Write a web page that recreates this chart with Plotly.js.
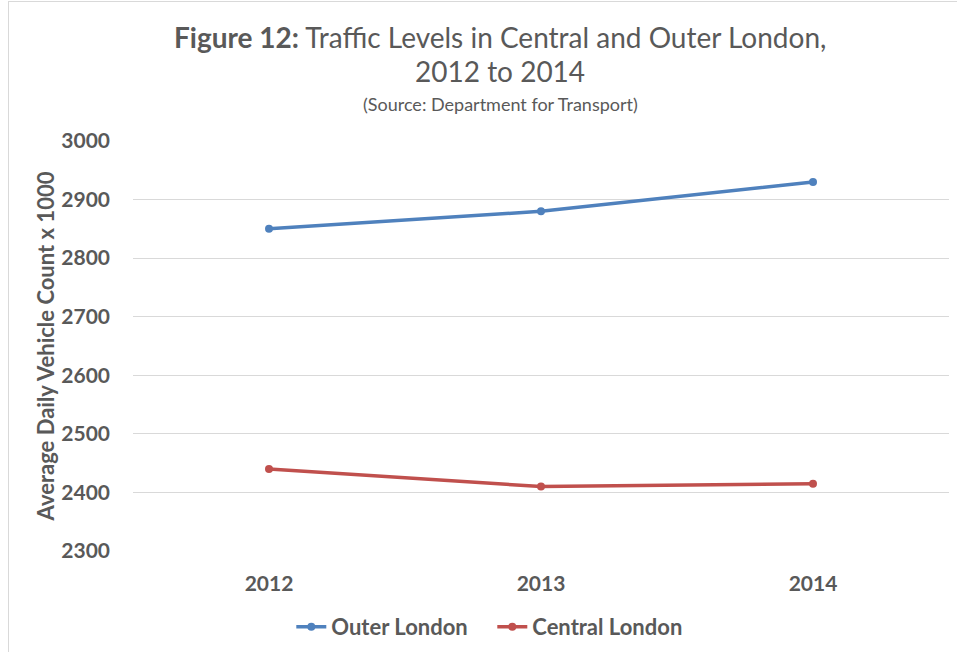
<!DOCTYPE html>
<html>
<head>
<meta charset="utf-8">
<script src="https://cdn.plot.ly/plotly-3.0.1.min.js"></script>
<style>
html,body{margin:0;padding:0;background:#fff;}
#frame{position:absolute;left:8px;top:1px;width:1000px;height:700px;border:1px solid #d9d9d9;pointer-events:none;z-index:5;}
#chart{position:absolute;left:0;top:0;width:957px;height:652px;}
</style>
</head>
<body>
<div id="chart"></div>
<div id="frame"></div>
<script>
var years = ["2012", "2013", "2014"];
var outerLondon = [2850, 2880, 2930];
var centralLondon = [2440, 2410, 2415];
var yTicks = [2300, 2400, 2500, 2600, 2700, 2800, 2900, 3000];

var FONT = "Lato, 'Open Sans', sans-serif";
var GRAY = "#595959";

var traces = [
  {x: years, y: outerLondon, name: "Outer London", type: "scatter", mode: "lines+markers",
   line: {color: "#4f81bd", width: 3.5}, marker: {color: "#4f81bd", size: 8}},
  {x: years, y: centralLondon, name: "Central London", type: "scatter", mode: "lines+markers",
   line: {color: "#c0504d", width: 3.5}, marker: {color: "#c0504d", size: 8}}
];

var layout = {
  width: 957, height: 652,
  margin: {l: 133, r: 8, t: 141, b: 101, autoexpand: false},
  paper_bgcolor: "rgba(0,0,0,0)", plot_bgcolor: "#fff",
  font: {family: FONT, color: GRAY},
  showlegend: true,
  legend: {orientation: "h", x: 0.194, xanchor: "left", y: -0.185, yanchor: "middle",
           xref: "paper", entrywidth: 156,
           font: {family: FONT, size: 22, color: GRAY, weight: "bold"}},
  xaxis: {type: "category", range: [-0.5, 2.5], showgrid: false, zeroline: false, showline: false,
          ticks: "", tickfont: {family: FONT, size: 21, color: GRAY, weight: "bold"}, ticklabelstandoff: 18},
  yaxis: {range: [2300, 3000], tickvals: yTicks, showgrid: true, gridcolor: "#d9d9d9", gridwidth: 1,
          zeroline: false, showline: false, ticks: "",
          tickfont: {family: FONT, size: 21, color: GRAY, weight: "bold"}, ticklabelstandoff: 22,
          title: {text: "Average Daily Vehicle Count x 1000", standoff: 0,
                  font: {family: FONT, size: 22, color: GRAY, weight: "bold"}}},
  annotations: [
    {xref: "paper", yref: "paper", x: 0.45, y: 1, yshift: 104, xanchor: "center", yanchor: "middle", showarrow: false,
     text: "<b>Figure 12:</b> Traffic Levels in Central and Outer London,", font: {family: FONT, size: 28, color: GRAY}},
    {xref: "paper", yref: "paper", x: 0.45, y: 1, yshift: 70, xanchor: "center", yanchor: "middle", showarrow: false,
     text: "2012 to 2014", font: {family: FONT, size: 28, color: GRAY}},
    {xref: "paper", yref: "paper", x: 0.45, y: 1, yshift: 37, xanchor: "center", yanchor: "middle", showarrow: false,
     text: "(Source: Department for Transport)", font: {family: FONT, size: 18, color: GRAY}}
  ]
};

Plotly.newPlot("chart", traces, layout, {displayModeBar: false, staticPlot: true});
</script>
</body>
</html>
